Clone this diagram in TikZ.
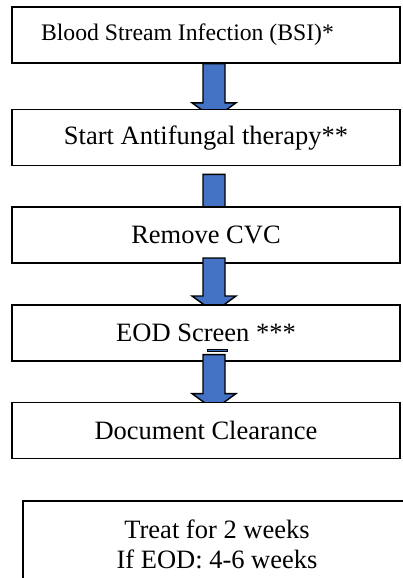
\documentclass[tikz,border=0pt]{standalone}
\usepackage{fontspec}
\setmainfont{Liberation Serif}
\usetikzlibrary{positioning, calc}
\definecolor{flowblue}{HTML}{4472C4}

% block arrow hanging below a box: node, top offset, shaft length
\newcommand{\blockarrow}[3]{%
  \draw[blockarr] ($(#1.south)+(-3,0)-(0,#2)$) -- ++(22,0) -- ++(0,-#3) -- ++(11,0)
    -- ++(-22,-16) -- ++(-22,16) -- ++(11,0) -- cycle;}

\begin{document}
\begin{tikzpicture}[x=1pt, y=1pt,
    box/.style={draw, rectangle, line width=1.6pt, fill=white, minimum width=388pt, minimum height=56pt,
      inner sep=0pt, align=center, font=\fontsize{26.5}{30}\selectfont},
    blockarr/.style={draw, line width=1.4pt, fill=flowblue}]
    \useasboundingbox (0,0) rectangle (403,-578);
    \clip (0,0) rectangle (403,-578);

    \node[box, font=\fontsize{23.7}{28}\selectfont] (bsi) at (206,-35) {Blood Stream Infection (BSI)*\hspace*{37pt}};
    \blockarrow{bsi}{0}{39}
    \node[box, below=45pt of bsi] (antifungal) {Start Antifungal therapy**};
    \blockarrow{antifungal}{8}{44}
    \node[box, below=40pt of antifungal] (cvc) {Remove CVC};
    \blockarrow{cvc}{-6}{38}
    \node[box, below=40pt of cvc] (eod) {EOD Screen ***};
    \draw[blockarr, line width=0.9pt] ($(eod.south)+(1,12)$) rectangle ++(20,-1.5);
    \blockarrow{eod}{-7}{39}
    \node[box, below=40pt of eod] (clearance) {Document Clearance};

    \node[box, minimum height=86pt, below=41pt of clearance, xshift=11pt] (treat) {Treat for 2 weeks\\If EOD: 4-6 weeks};
\end{tikzpicture}
\end{document}
